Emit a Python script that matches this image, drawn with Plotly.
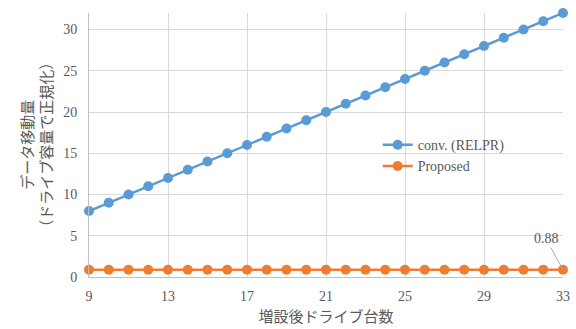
import plotly.graph_objects as go

drives = list(range(9, 34))
conv_relpr = [8, 9, 10, 11, 12, 13, 14, 15, 16, 17, 18, 19, 20, 21, 22, 23, 24, 25, 26, 27, 28, 29, 30, 31, 32]
proposed = [0.88] * 25
x_ticks = [9, 13, 17, 21, 25, 29, 33]
y_ticks = [0, 5, 10, 15, 20, 25, 30]
y_title = "データ移動量<br>（ドライブ容量で正規化）"

font_family = "'Liberation Serif', 'DejaVu Serif', 'Noto Sans CJK JP', serif"
grey = "#595959"
grid = "#d9d9d9"

fig = go.Figure()
fig.add_trace(go.Scatter(
    x=drives, y=conv_relpr, name="conv. (RELPR)", mode="lines+markers", cliponaxis=False,
    line=dict(color="#5B9BD5", width=2.5), marker=dict(size=10, color="#5B9BD5"),
))
fig.add_trace(go.Scatter(
    x=drives, y=proposed, name="Proposed", mode="lines+markers", cliponaxis=False,
    line=dict(color="#ED7D31", width=2.5), marker=dict(size=10, color="#ED7D31"),
))

# data label on the last point of the proposed series
fig.add_annotation(
    x=drives[-1], y=proposed[-1], text=f"{proposed[-1]:.2f}",
    showarrow=True, arrowhead=0, arrowwidth=1, arrowcolor="#a6a6a6",
    ax=-17, ay=-31, font=dict(size=14, color=grey, family=font_family),
)

# vertical two-line axis title
fig.add_annotation(
    xref="paper", yref="paper", x=-0.11, y=0.5, xanchor="center", yanchor="middle",
    text=y_title, textangle=-90, showarrow=False,
    font=dict(size=15, color=grey, family=font_family),
)

fig.update_layout(
    width=576, height=329,
    margin=dict(l=89, r=13, t=13, b=52),
    paper_bgcolor="white", plot_bgcolor="white",
    font=dict(family=font_family, size=14, color=grey),
    showlegend=True,
    legend=dict(x=0.609, y=0.56, xanchor="left", yanchor="top",
                bgcolor="rgba(0,0,0,0)", font=dict(size=14, color=grey, family=font_family),
                tracegroupgap=0, itemwidth=30),
    xaxis=dict(
        range=[9, 33], tickvals=x_ticks, showgrid=True, gridcolor=grid, gridwidth=1,
        showline=True, linecolor="#bfbfbf", linewidth=1, zeroline=False,
        ticks="", ticklabelstandoff=6, automargin=False,
        tickfont=dict(size=14, color=grey, family=font_family),
        title=dict(text="増設後ドライブ台数", standoff=8, font=dict(size=15, color=grey, family=font_family)),
    ),
    yaxis=dict(
        range=[0, 32], tickvals=y_ticks, showgrid=True, gridcolor=grid, gridwidth=1,
        showline=True, linecolor="#bfbfbf", linewidth=1, zeroline=False,
        ticks="", ticklabelstandoff=8, automargin=False,
        tickfont=dict(size=14, color=grey, family=font_family),
    ),
)

fig.write_html("out.html")
